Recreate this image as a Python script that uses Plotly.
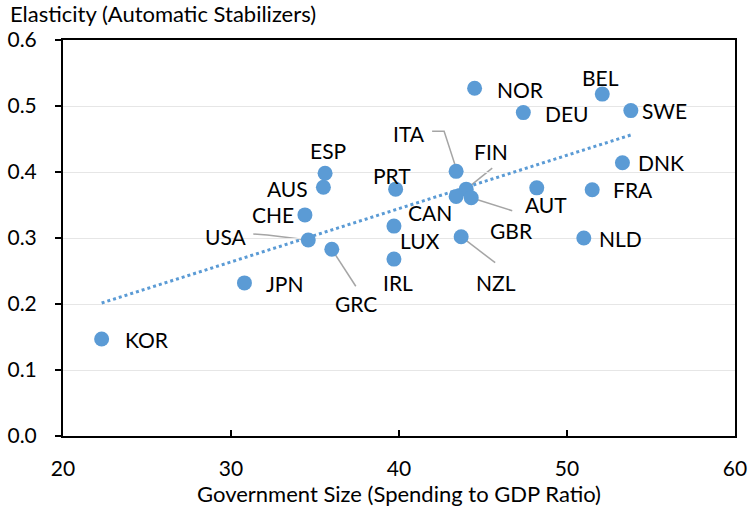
import numpy as np
import plotly.graph_objects as go

countries = ["KOR", "JPN", "USA", "GRC", "CHE", "AUS", "ESP", "PRT", "LUX", "IRL",
             "ITA", "FIN", "CAN", "GBR", "NZL", "AUT", "FRA", "NLD", "DNK", "SWE",
             "BEL", "DEU", "NOR"]
gov_size = [22.3, 30.8, 34.6, 36.0, 34.4, 35.5, 35.6, 39.8, 39.7, 39.7,
            43.4, 44.0, 43.4, 44.3, 43.7, 48.2, 51.5, 51.0, 53.3, 53.8,
            52.1, 47.4, 44.5]
elasticity = [0.147, 0.232, 0.297, 0.283, 0.335, 0.377, 0.398, 0.374, 0.318, 0.268,
              0.401, 0.374, 0.363, 0.361, 0.302, 0.376, 0.373, 0.300, 0.414, 0.493,
              0.518, 0.490, 0.527]

# label offsets from the marker, screen pixels (dx right, dy down)
label_dx = [45, 41, -82, 24, -32, -36, 3, -4, 26, 4,
            -47, 25, -26, 40, 35, 9, 41, 37, 39, 34,
            -2, 44, 46]
label_dy = [1, 1, -3, 54, 0, 1, -23, -14, 14, 23,
            -38, -38, 16, 33, 46, 17, 0, 0, 0, 0,
            -17, 1, 1]

# leader lines, pixel offsets from the marker (dx, dy down)
leaders = {
    "ITA": [(-24, -40), (-12, -40), (0, -3)],
    "FIN": [(26, -21), (0, 0)],
    "GBR": [(0, 0), (41, 13)],
    "NZL": [(0, 0), (34, 26)],
    "USA": [(-55, -6), (-41, -5), (0, 0)],
    "GRC": [(0, 0), (24, 37)],
}

BLUE = "#5B9BD5"
FONT = "Lato"

fig = go.Figure()

# linear trend
slope, intercept = np.polyfit(gov_size, elasticity, 1)
tx = [min(gov_size), max(gov_size)]
ty = [slope * v + intercept for v in tx]
fig.add_trace(go.Scatter(x=tx, y=ty, mode="lines",
                         line=dict(color=BLUE, width=3, dash="dot"),
                         hoverinfo="skip", showlegend=False))

fig.add_trace(go.Scatter(x=gov_size, y=elasticity, mode="markers",
                         marker=dict(color=BLUE, size=15),
                         text=countries, showlegend=False))

annotations = []
for c, x, y, dx, dy in zip(countries, gov_size, elasticity, label_dx, label_dy):
    annotations.append(dict(x=x, y=y, xref="x", yref="y", text=c, showarrow=False,
                            xshift=dx, yshift=-dy,
                            font=dict(family=FONT, size=21, color="#000000")))

shapes = []
for c, pts in leaders.items():
    i = countries.index(c)
    path = "M" + " L".join(f"{px},{-py}" for px, py in pts)
    shapes.append(dict(type="path", xref="x", yref="y", xsizemode="pixel", ysizemode="pixel",
                       xanchor=gov_size[i], yanchor=elasticity[i], path=path,
                       line=dict(color="#A5A5A5", width=1.5), layer="below"))

annotations.append(dict(x=0, y=1, xref="paper", yref="paper", xanchor="left", yanchor="middle",
                        xshift=-55, yshift=27, showarrow=False,
                        text="Elasticity (Automatic Stabilizers)",
                        font=dict(family=FONT, size=22, color="#000000")))

fig.update_layout(
    width=748, height=512,
    margin=dict(l=63, r=13, t=40, b=76, autoexpand=False),
    paper_bgcolor="white", plot_bgcolor="white",
    font=dict(family=FONT, size=21, color="#000000"),
    annotations=annotations, shapes=shapes,
    xaxis=dict(range=[20, 60], dtick=10, tick0=20, showgrid=False, zeroline=False,
               showline=True, linecolor="#000000", linewidth=2, mirror=True,
               ticks="inside", ticklen=6, tickcolor="#000000", tickwidth=1.5,
               ticklabelstandoff=13, automargin=False,
               tickfont=dict(family=FONT, size=21),
               title=dict(text="Government Size (Spending to GDP Ratio)", standoff=6,
                          font=dict(family=FONT, size=22))),
    yaxis=dict(range=[0, 0.6], dtick=0.1, tick0=0, tickformat=".1f",
               showgrid=True, gridcolor="#E6E6E6", gridwidth=1, zeroline=False,
               showline=True, linecolor="#000000", linewidth=2, mirror=True,
               ticks="outside", ticklen=6, tickcolor="#000000", tickwidth=1.5,
               ticklabelstandoff=14, automargin=False,
               tickfont=dict(family=FONT, size=21)),
)

fig.write_html("out.html", config={"displayModeBar": False},
               post_script="document.body.style.margin='0';document.body.style.overflow='hidden';")
